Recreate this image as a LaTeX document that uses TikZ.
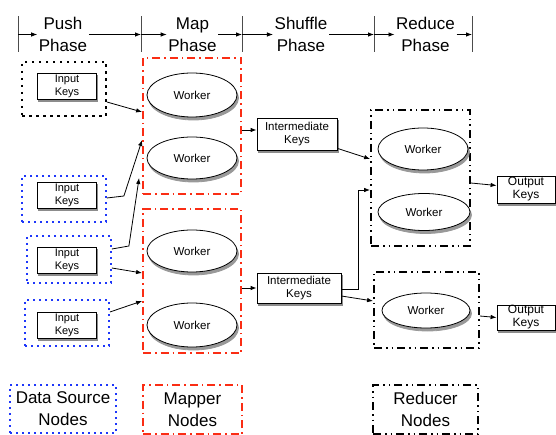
\documentclass[tikz,border=0pt]{standalone}
\usepackage{fontspec}
\setmainfont{Liberation Sans}
\usetikzlibrary{arrows.meta,shadows,shapes.geometric}
\definecolor{mapred}{RGB}{250,45,20}
\definecolor{srcblue}{RGB}{30,55,250}

\begin{document}
\begin{tikzpicture}[x=1pt,y=-1pt,>={Latex[length=6pt,width=4.5pt]},
    phase/.style={font=\fontsize{17}{22.5}\selectfont,align=center,inner sep=1.5pt},
    grp/.style={line width=1.8pt,inner sep=0pt,align=center,font=\fontsize{17}{22}\selectfont},
    srcgrp/.style={grp,draw=srcblue,dash pattern=on 2pt off 4pt},
    mapgrp/.style={grp,draw=mapred,dash pattern=on 8pt off 4pt on 1.5pt off 4pt},
    redgrp/.style={grp,draw=black,dash pattern=on 8pt off 4pt on 1.5pt off 4pt on 1.5pt off 4pt},
    keys/.style={draw,fill=white,line width=0.8pt,inner sep=0pt,align=center,
                 preaction={draw=black!45,fill=black!45,line width=0.8pt,transform canvas={xshift=1pt,yshift=-2.5pt}},
                 font=\fontsize{11}{13}\selectfont},
    worker/.style={ellipse,draw,fill=white,line width=0.8pt,inner sep=0pt,
                   minimum width=90pt,minimum height=42pt,
                   preaction={draw=black!40,fill=black!40,line width=0.8pt,transform canvas={xshift=1.5pt,yshift=-3pt}},
                   font=\fontsize{11.5}{13}\selectfont},
    link/.style={->,line width=0.8pt}]
  \useasboundingbox (0,0) rectangle (556,435);

  % phase bar
  \foreach \n/\x in {1/18,2/141,3/242,4/374,5/472}{
      \coordinate (t\n) at (\x,34.5);
      \draw[black!70,line width=0.9pt] (t\n) ++(0,-18) -- ++(0,36);
  }
  \node[phase] (push)    at (63,34.5)    {Push\\Phase};
  \node[phase] (mapph)   at (192.5,34.5) {Map\\Phase};
  \node[phase] (shuffle) at (301,34.5)   {Shuffle\\Phase};
  \node[phase] (reduce)  at (425.5,34.5) {Reduce\\Phase};
  \draw[link] (t1) -- (push);     \draw[link] (push) -- (t2);
  \draw[link] (t2) -- (mapph);    \draw[link] (mapph) -- (t3);
  \draw[link] (t3) -- (shuffle);  \draw[link] (shuffle) -- (t4);
  \draw[link] (t4) -- (reduce);   \draw[link] (reduce) -- (t5);

  % data sources
  \node[srcgrp,draw=black,dash pattern=on 2.5pt off 4.5pt,minimum width=84pt,minimum height=54pt] (src1) at (64,89) {};
  \node[srcgrp,minimum width=84pt,minimum height=46pt] (src2) at (64,199) {};
  \node[srcgrp,minimum width=84pt,minimum height=47pt] (src3) at (69,259.5) {};
  \node[srcgrp,minimum width=84pt,minimum height=46pt] (src4) at (67,323) {};
  \node[keys,minimum width=59pt,minimum height=26pt] (in1) at (67,86)  {Input\\Keys};
  \node[keys,minimum width=59pt,minimum height=26pt] (in2) at (67,195) {Input\\Keys};
  \node[keys,minimum width=59pt,minimum height=26pt] (in3) at (67,260) {Input\\Keys};
  \node[keys,minimum width=59pt,minimum height=26pt] (in4) at (67,325) {Input\\Keys};

  % mappers
  \node[mapgrp,minimum width=98pt,minimum height=136pt] (map1) at (192,126) {};
  \node[mapgrp,minimum width=98pt,minimum height=144pt] (map2) at (192,281) {};
  \node[worker,minimum height=44pt] (w1) at (192,95)  {Worker};
  \node[worker] (w2) at (192,158) {Worker};
  \node[worker] (w3) at (192,251) {Worker};
  \node[worker,minimum height=44pt] (w4) at (192,325) {Worker};

  % shuffle
  \node[keys,minimum width=80pt,minimum height=32pt,font=\fontsize{11.5}{13}\selectfont] (int1) at (297,134) {Intermediate\\Keys};
  \node[keys,minimum width=84pt,minimum height=30pt,font=\fontsize{11.5}{13}\selectfont] (int2) at (299,288) {Intermediate\\Keys};

  % reducers
  \node[redgrp,minimum width=99pt,minimum height=136pt] (red1) at (420.5,178) {};
  \node[redgrp,minimum width=105pt,minimum height=76pt] (red2) at (426.5,310) {};
  \node[worker] (w5) at (423,149) {Worker};
  \node[worker,minimum width=92pt,minimum height=37pt] (w6) at (424,212) {Worker};
  \node[worker,minimum width=88pt,minimum height=35pt] (w7) at (426,310.5) {Worker};
  \node[keys,minimum width=58pt,minimum height=27pt,font=\fontsize{12}{13}\selectfont] (out1) at (526,189.5) {Output\\Keys};
  \node[keys,minimum width=58pt,minimum height=25pt,font=\fontsize{12}{13}\selectfont] (out2) at (526,317.5) {Output\\Keys};

  % links
  \draw[link] ([yshift=-13pt]src1.east) -- ([yshift=14pt]map1.west);
  \draw[link] ([yshift=1pt]src2.east) -- ++(17,-2) -- ([yshift=-14pt]map1.west);
  \draw[link] ([yshift=10.5pt]src3.east) -- ++(17,-3) -- ([xshift=-3pt,yshift=-52pt]map1.west);
  \draw[link] ([yshift=-8.5pt]src3.east) -- ([yshift=8pt]map2.west);
  \draw[link] ([yshift=11pt]src4.east) -- ([yshift=-20pt]map2.west);
  \draw[link] ([yshift=4pt]int1.west -| map1.east) -- ([yshift=4pt]int1.west);
  \draw[link] (int2.west -| map2.east) -- (int2.west);
  \draw[link] ([yshift=2pt]int1.south east) -- ([yshift=19pt]red1.west);
  \draw[link] ([yshift=-1pt]int2.east) -- ++(17,0) |- ([yshift=-12pt]red1.west);
  \draw[link] ([yshift=-8pt]int2.east) -- ([yshift=9pt]red2.west);
  \draw[link] ([yshift=-5pt]red1.east) -- ([yshift=4pt]out1.west);
  \draw[link] ([yshift=-6pt]red2.east) -- (out2.west);

  % legend
  \node[srcgrp,minimum width=106pt,minimum height=48pt] (legsrc) at (63,409) {Data Source\\Nodes};
  \node[mapgrp,minimum width=99pt,minimum height=49pt] (legmap) at (192.5,409.5) {Mapper\\Nodes};
  \node[redgrp,minimum width=105pt,minimum height=49pt] (legred) at (425.5,409.5) {Reducer\\Nodes};
%  \node at (278,430) {MapReduce phases};
\end{tikzpicture}
\end{document}
